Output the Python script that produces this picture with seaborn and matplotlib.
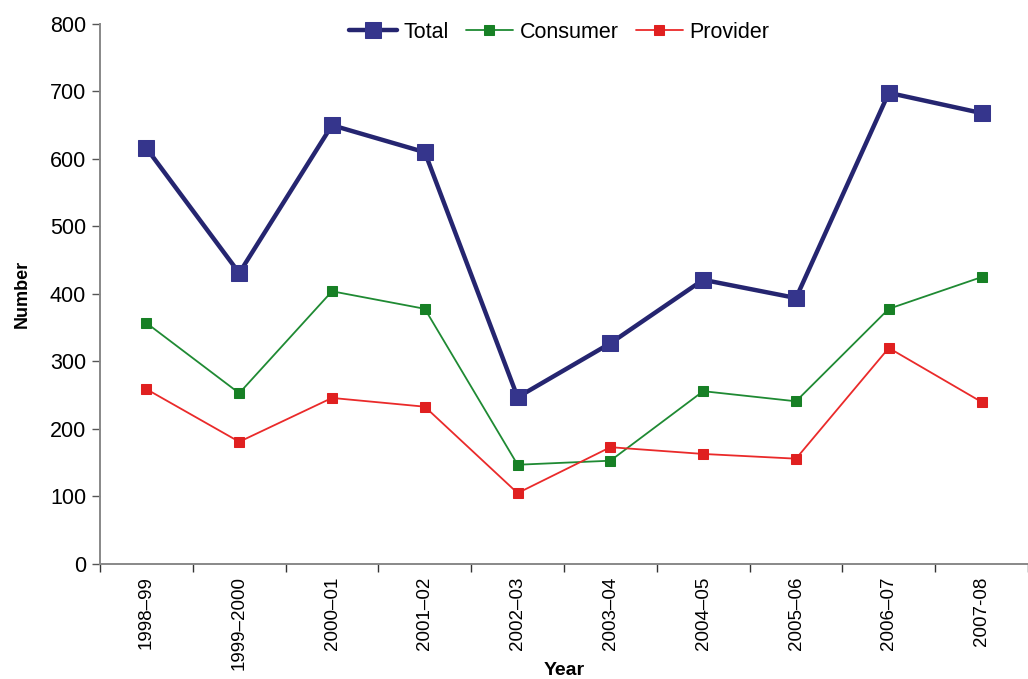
import matplotlib
matplotlib.use("Agg")
import matplotlib.pyplot as plt
import seaborn as sns
import numpy as np
from matplotlib.ticker import FixedLocator

years = ["1998\u201399", "1999\u20132000", "2000\u201301", "2001\u201302", "2002\u201303",
         "2003\u201304", "2004\u201305", "2005\u201306", "2006\u201307", "2007-08"]
total = [616, 431, 650, 610, 247, 327, 421, 394, 698, 668]
consumer = [357, 253, 404, 378, 147, 153, 256, 241, 378, 425]
provider = [259, 181, 246, 233, 105, 173, 163, 156, 320, 240]

sns.set_style("white")
plt.rcParams["font.family"] = ["Liberation Sans", "DejaVu Sans"]
plt.rcParams["text.color"] = "black"
plt.rcParams["axes.labelcolor"] = "black"
plt.rcParams["xtick.color"] = "black"
plt.rcParams["ytick.color"] = "black"

fig = plt.figure(figsize=(10.28, 6.79), dpi=100)
ax = fig.add_axes([0.0973, 0.1694, 0.9027, 0.7953])

pos = np.arange(len(years))
sns.lineplot(x=pos, y=total, ax=ax, color="#252570", lw=3.2, marker="s",
             markersize=11, markerfacecolor="#35358c", markeredgecolor="#35358c",
             label="Total")
sns.lineplot(x=pos, y=consumer, ax=ax, color="#1f8a33", lw=1.3, marker="s",
             markersize=6.5, markerfacecolor="#178025", markeredgecolor="#178025",
             label="Consumer")
sns.lineplot(x=pos, y=provider, ax=ax, color="#ea2a2a", lw=1.3, marker="s",
             markersize=6.5, markerfacecolor="#e02020", markeredgecolor="#e02020",
             label="Provider")

ax.set_xlim(-0.5, 9.5)
ax.set_ylim(0, 800)
ax.set_yticks(range(0, 801, 100))
ax.set_xticks(pos)
ax.set_xticklabels(years, rotation=90, fontsize=13.5)
ax.xaxis.set_minor_locator(FixedLocator(np.arange(-0.5, 9.6, 1.0)))
ax.tick_params(axis="x", which="major", length=0, pad=9)
ax.tick_params(axis="x", which="minor", length=6, width=1, color="#333333",
               direction="out", bottom=True)
ax.tick_params(axis="y", length=6, width=1, color="#555555", direction="out",
               left=True, labelsize=15.5, pad=4)

for s in ["top", "right"]:
    ax.spines[s].set_visible(False)
for s in ["left", "bottom"]:
    ax.spines[s].set_color("#888888")
    ax.spines[s].set_linewidth(1.4)

ax.set_ylabel("Number", fontsize=13, fontweight="bold", labelpad=14)
ax.set_xlabel("Year", fontsize=14, fontweight="bold")
ax.xaxis.set_label_coords(0.5, -0.181)

leg = ax.legend(loc="upper center", bbox_to_anchor=(0.495, 1.04), ncol=3,
                frameon=False, fontsize=15.5, handlelength=2.2,
                columnspacing=0.8, handletextpad=0.3)

fig.savefig("out.png", dpi=100)
